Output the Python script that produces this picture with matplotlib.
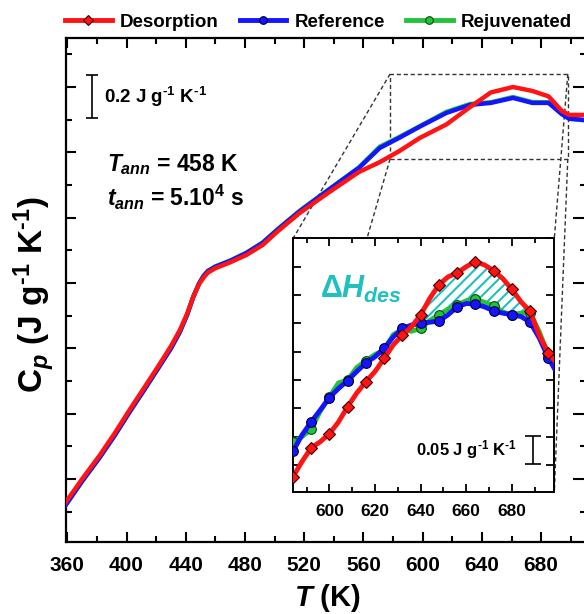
import numpy as np
import matplotlib
matplotlib.use('Agg')
import matplotlib.pyplot as plt
from matplotlib.patches import Rectangle

plt.rcParams['font.family'] = ['Liberation Sans', 'DejaVu Sans']
plt.rcParams['font.weight'] = 'bold'
plt.rcParams['axes.labelweight'] = 'bold'
plt.rcParams['mathtext.fontset'] = 'custom'
plt.rcParams['mathtext.rm'] = 'Liberation Sans:bold'
plt.rcParams['mathtext.it'] = 'Liberation Sans:bold:italic'
plt.rcParams['mathtext.bf'] = 'Liberation Sans:bold'
plt.rcParams['hatch.linewidth'] = 1.5

# main curves: T (K) and Cp (J/g/K, arbitrary offset)
T_main = [359, 370, 382, 392, 402, 412, 422, 430, 436, 441, 445, 449, 452, 455, 460,
          470, 481, 492, 502, 517, 537, 557, 571, 584, 598, 616, 632, 646, 661, 674,
          685, 694, 699, 709]
cp_desorption = [0.194, 0.30, 0.410, 0.51, 0.617, 0.72, 0.824, 0.91, 0.984, 1.06, 1.136,
                 1.195, 1.225, 1.248, 1.268, 1.295, 1.329, 1.375, 1.437, 1.522, 1.618,
                 1.710, 1.755, 1.805, 1.866, 1.928, 2.008, 2.075, 2.100, 2.082, 2.057,
                 1.990, 1.972, 1.972]
cp_reference = [0.181, 0.29, 0.400, 0.50, 0.607, 0.71, 0.815, 0.90, 0.975, 1.055, 1.135,
                1.198, 1.232, 1.255, 1.275, 1.302, 1.338, 1.385, 1.445, 1.530, 1.630,
                1.729, 1.820, 1.866, 1.918, 1.981, 2.018, 2.027, 2.050, 2.027, 2.027,
                1.975, 1.954, 1.949]
cp_rejuvenated = [0.183, 0.29, 0.401, 0.50, 0.608, 0.71, 0.816, 0.90, 0.976, 1.056, 1.136,
                  1.199, 1.233, 1.256, 1.276, 1.303, 1.339, 1.386, 1.447, 1.532, 1.632,
                  1.731, 1.826, 1.870, 1.920, 1.986, 2.022, 2.030, 2.054, 2.031, 2.030,
                  1.978, 1.955, 1.947]

# inset (zoom of the peak region)
T_ins = [584, 588, 592, 596, 600, 604, 608, 612, 616, 620, 624, 628, 632, 636, 640,
         644, 648, 652, 656, 660, 664, 668, 672, 676, 680, 684, 688, 692, 696, 698.5]
ins_desorption = [0.029, 0.056, 0.080, 0.091, 0.105, 0.126, 0.153, 0.177, 0.197, 0.215,
                  0.238, 0.262, 0.279, 0.294, 0.315, 0.344, 0.368, 0.382, 0.389, 0.400,
                  0.409, 0.403, 0.393, 0.379, 0.360, 0.338, 0.321, 0.279, 0.247, 0.235]
ins_reference = [0.074, 0.103, 0.126, 0.147, 0.169, 0.185, 0.199, 0.215, 0.230, 0.241,
                 0.256, 0.276, 0.291, 0.297, 0.300, 0.302, 0.304, 0.315, 0.329, 0.335,
                 0.334, 0.329, 0.322, 0.318, 0.315, 0.312, 0.302, 0.274, 0.239, 0.221]
ins_rejuvenated = [0.090, 0.100, 0.113, 0.145, 0.170, 0.195, 0.200, 0.222, 0.234, 0.245,
                   0.253, 0.280, 0.289, 0.286, 0.291, 0.305, 0.315, 0.325, 0.332, 0.340,
                   0.343, 0.337, 0.331, 0.320, 0.315, 0.318, 0.318, 0.285, 0.244, 0.226]

labels = ['Desorption', 'Reference', 'Rejuvenated']
colors = ['#ff1414', '#1414ff', '#22c33a']
markers = ['D', 'o', 'o']
edges = ['#400000', '#000030', '#0a4a10']
cyan = '#1fc0c0'

zoom_T = [578, 698]
zoom_cp = [1.77, 2.16]

unit = r' J g$^{\text{-1}}$ K$^{\text{-1}}$'

fig = plt.figure(figsize=(5.84, 6.14), dpi=100)
ax = fig.add_axes([0.1122, 0.1173, 0.8981, 0.8208])

main_series = [cp_desorption, cp_reference, cp_rejuvenated]
for i in [2, 1, 0]:
    ax.plot(T_main, main_series[i], color=colors[i], lw=3.2, zorder=3 + (2 - i))

ax.set_xlim(358.8, 713)
ax.set_ylim(0.011, 2.325)
ax.set_xticks(np.arange(360, 700, 40))
ax.set_xticks(np.arange(360, 712, 20), minor=True)
ax.set_yticks(np.arange(0.3, 2.2, 0.3))
ax.set_yticks(np.arange(0.15, 2.3, 0.15), minor=True)
ax.set_yticklabels([])
ax.tick_params(which='both', direction='in', top=True, right=False, width=1.5)
ax.tick_params(which='major', length=7, labelsize=15, pad=10)
ax.tick_params(which='minor', length=4)
for s in ax.spines.values():
    s.set_linewidth(1.6)

sec = ax.secondary_yaxis('right')
sec.set_yticks(np.arange(0.3, 2.2, 0.3))
sec.set_yticks(np.arange(0.15, 2.3, 0.15), minor=True)
sec.set_yticklabels([])
sec.tick_params(which='both', direction='in', width=1.5)
sec.tick_params(which='major', length=12.5)
sec.tick_params(which='minor', length=7.5)

ax.set_xlabel(r'$T$ (K)', fontsize=21, labelpad=5)
ax.set_ylabel(r'C$_{p}$ (J g$^{\text{-1}}$ K$^{\text{-1}}$)', fontsize=24)
ax.yaxis.set_label_coords(-0.017, 0.49)

# scale bar and annotation text
ax.errorbar([376.5], [2.056], yerr=[0.1], color='k', lw=1.2, capsize=4.5, capthick=1.2)
ax.text(385, 2.056, '0.2' + unit, fontsize=13.5, va='center', ha='left')
ax.text(387, 1.742, r'$T_{ann}$ = 458 K', fontsize=16.5, va='center', ha='left')
ax.text(387, 1.591, r'$t_{ann}$ = 5.10$^{4}$ s', fontsize=16.5, va='center', ha='left')

# dashed zoom box
ax.add_patch(Rectangle((zoom_T[0], zoom_cp[0]), zoom_T[1] - zoom_T[0], zoom_cp[1] - zoom_cp[0],
                       fill=False, ls=(0, (3, 2)), lw=1, ec='#333333', zorder=2))

axins = fig.add_axes([0.5023, 0.1992, 0.4469, 0.4132])

# connecting lines from box corners to inset corners (hidden behind inset)
to_data = ax.transData.inverted()
corner_pairs = [((0, 1), (zoom_T[0], zoom_cp[1])), ((0, 0), (zoom_T[0], zoom_cp[0])),
                ((1, 1), (zoom_T[1], zoom_cp[1])), ((1, 0), (zoom_T[1], zoom_cp[0]))]
for ins_corner, box_corner in corner_pairs:
    p = to_data.transform(axins.transAxes.transform(ins_corner))
    ax.plot([box_corner[0], p[0]], [box_corner[1], p[1]], ls=(0, (3, 2)), lw=1,
            color='#333333', zorder=2)

ins_series = [ins_desorption, ins_reference, ins_rejuvenated]
for i in [2, 1, 0]:
    axins.plot(T_ins, ins_series[i], color=colors[i], lw=3.5, marker=markers[i],
               markevery=2, ms=6.5 if i == 0 else 7, mfc=colors[i], mec=edges[i], mew=0.8,
               zorder=3 + (2 - i))

T_arr = np.array(T_ins)
upper = np.array(ins_desorption)
lower = np.maximum(np.array(ins_reference), np.array(ins_rejuvenated))
axins.fill_between(T_arr, lower, upper, where=(T_arr >= 640) & (T_arr <= 688),
                   facecolor='none', edgecolor=cyan, hatch='///', lw=0, zorder=2)

axins.set_xlim(584.2, 698.6)
axins.set_ylim(0.0029, 0.4506)
axins.set_xticks(np.arange(600, 690, 20))
axins.set_xticks(np.arange(590, 700, 10), minor=True)
axins.set_yticks(np.arange(0.05, 0.46, 0.05))
axins.set_yticklabels([])
axins.tick_params(which='both', direction='in', top=True, right=True, width=1.3)
axins.tick_params(which='major', length=6, labelsize=12.5, pad=9)
axins.tick_params(which='minor', length=3.5)
for s in axins.spines.values():
    s.set_linewidth(1.4)

axins.text(596, 0.36, r'$\mathit{\Delta H_{des}}$', fontsize=22, color=cyan,
           va='center', ha='left')
axins.errorbar([689.4], [0.076], yerr=[0.025], color='k', lw=1.2, capsize=5.5, capthick=1.2)
axins.text(682, 0.078, '0.05' + unit, fontsize=12, va='center', ha='right')

# legend above the plot
handles = []
for i in range(3):
    h, = ax.plot([], [], color=colors[i], lw=3.5, marker=markers[i], ms=5.5,
                 mfc=colors[i], mec=edges[i], mew=0.8)
    handles.append(h)
fig.legend(handles, labels, loc='center left', bbox_to_anchor=(0.111, 0.964), ncol=3,
           frameon=False, fontsize=13.5, handlelength=2.5, handletextpad=0.45,
           columnspacing=1.1, borderpad=0, borderaxespad=0)

fig.savefig('out.png', dpi=100)
